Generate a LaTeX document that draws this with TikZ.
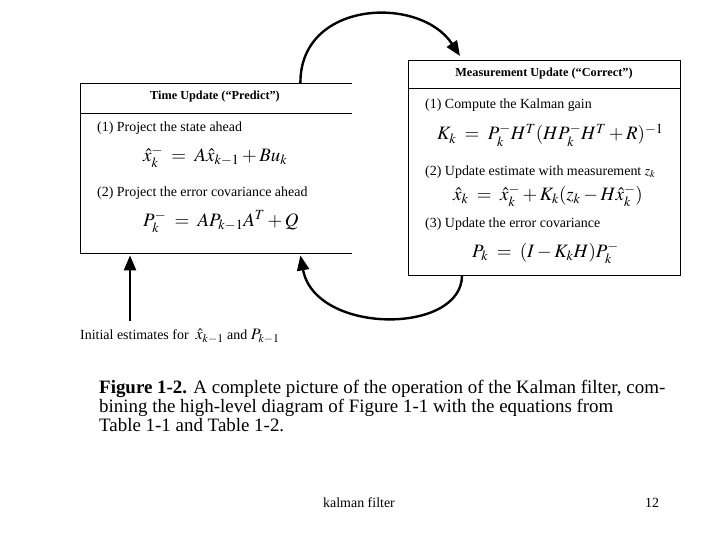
\documentclass[tikz,border=0pt]{standalone}
\usepackage{mathptmx}
\usepackage{fontspec}
\setmainfont{Liberation Serif}
\usetikzlibrary{arrows.meta}

\begin{document}
\begin{tikzpicture}[x=1bp, y=-1bp,
    boxtitle/.style={font=\bfseries\fontsize{12.3}{14}\selectfont},
    steptext/.style={anchor=west, inner sep=0pt, font=\fontsize{14}{16}\selectfont},
    eqn/.style={anchor=west, inner sep=0pt, font=\fontsize{19}{21}\selectfont},
    flow/.style={line width=2.4bp, -{Triangle[length=15bp, width=12bp]}}]
    \useasboundingbox (0,0) rectangle (720,540);

    % Time update box (open on the right)
    \node[anchor=north west, minimum width=272bp, minimum height=170bp, inner sep=0pt] (predict) at (80,83) {};
    \draw (predict.north east) -- (predict.north west) -- (predict.south west) -- (predict.south east);
    \draw ([yshift=-30bp]predict.north west) -- ([yshift=-30bp]predict.north east);
    \node[boxtitle] (predtitle) at (215,97) {Time Update (“Predict”)};
    \node[steptext] (pred1) at (97,128) {(1) Project the state ahead};
    \node[eqn] (predeq1) at (143,157) {$\hat{x}^{-}_{k} \;=\; A\hat{x}_{k-1} + Bu_{k}$};
    \node[steptext] (pred2) at (97,193) {(2) Project the error covariance ahead};
    \node[eqn] (predeq2) at (143,222) {$P^{-}_{k} \;=\; AP_{k-1}A^{T} + Q$};

    % Measurement update box
    \node[draw, anchor=north west, minimum width=272bp, minimum height=215bp, inner sep=0pt] (correct) at (408,60) {};
    \draw ([yshift=-28bp]correct.north west) -- ([yshift=-28bp]correct.north east);
    \node[boxtitle] (corrtitle) at (544,74) {Measurement Update (“Correct”)};
    \node[steptext] (corr1) at (425,105) {(1) Compute the Kalman gain};
    \node[eqn] (correq1) at (437,135) {$K_{k} \;=\; P^{-}_{k}H^{T}(HP^{-}_{k}H^{T} + R)^{-1}$};
    \node[steptext] (corr2) at (425,172) {(2) Update estimate with measurement $z_{k}$};
    \node[eqn] (correq2) at (453,196) {$\hat{x}_{k} \;=\; \hat{x}^{-}_{k} + K_{k}(z_{k} - H\hat{x}^{-}_{k})$};
    \node[steptext] (corr3) at (425,224) {(3) Update the error covariance};
    \node[eqn] (correq3) at (472,253) {$P_{k} \;=\; (I - K_{k}H)P^{-}_{k}$};

    % Initial estimates
    \node[steptext] (initial) at (80,336) {Initial estimates for \ {\fontsize{16}{18}\selectfont$\hat{x}_{k-1}$} and {\fontsize{16}{18}\selectfont$P_{k-1}$}};

    % Arrows
    \coordinate (toptarget) at ([xshift=52bp, yshift=4bp]correct.north west);
    \coordinate (bottarget) at ([xshift=-52bp, yshift=-2bp]predict.south east);
    \draw[flow] ([xshift=-52bp]predict.north east) .. controls (300,0) and (420,-5) .. (toptarget);
    \draw[flow] ([xshift=54bp]correct.south west) .. controls (462,335) and (315,335) .. (bottarget);
    \draw[flow] ([xshift=50bp, yshift=8bp]initial.north west) -- ([xshift=50bp, yshift=-2bp]predict.south west);

    % Caption
    \node[anchor=north west, align=left, inner sep=0pt, font=\fontsize{19}{19}\selectfont] (caption) at (99,380)
        {\textbf{Figure 1-2.} A complete picture of the operation of the Kalman filter, com-\\
         bining the high-level diagram of Figure 1-1 with the equations from\\
         Table 1-1 and Table 1-2.};

    % Footer
    \node[font=\fontsize{14}{16}\selectfont] (footer) at (359,503) {kalman filter};
    \node[font=\fontsize{14}{16}\selectfont] (pagenum) at (652,503) {12};
\end{tikzpicture}
\end{document}
